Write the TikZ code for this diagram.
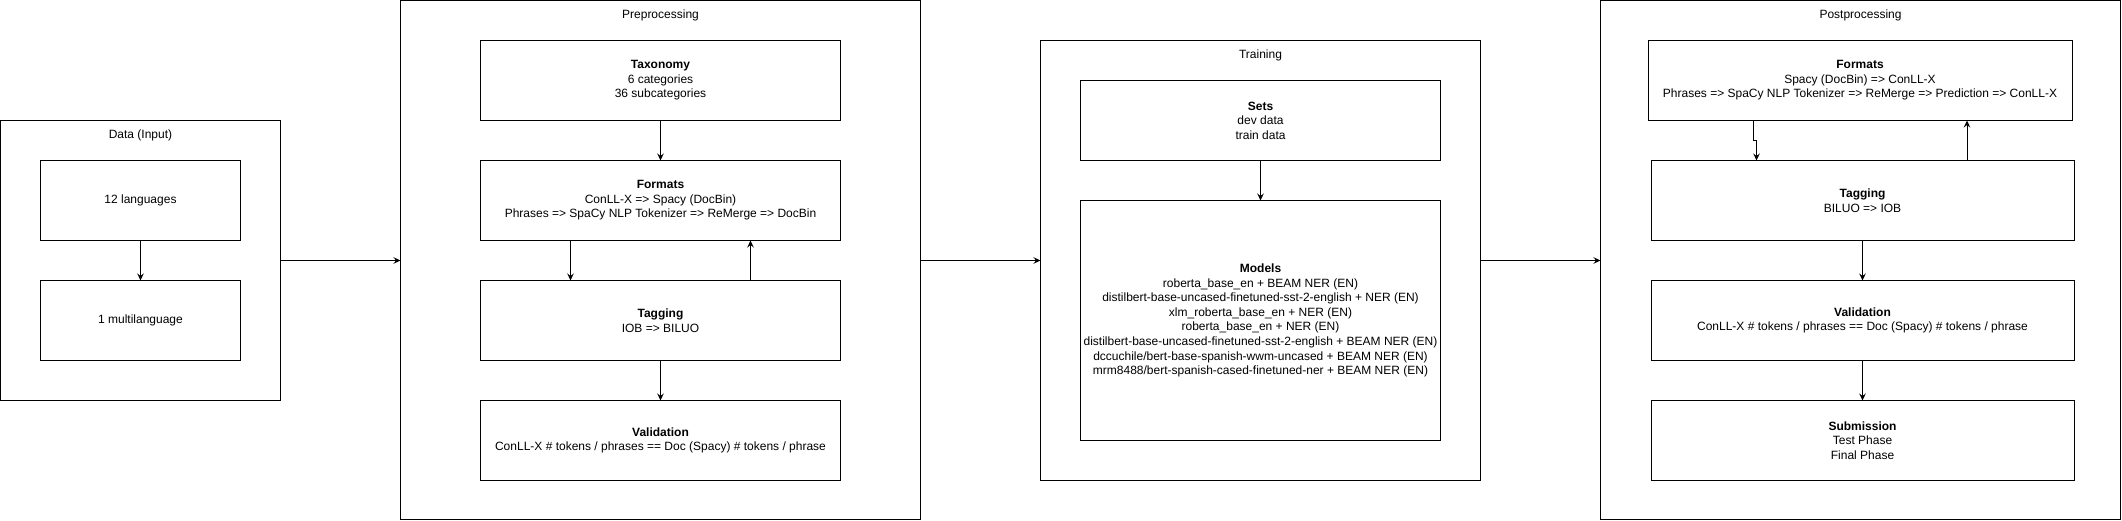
\documentclass[tikz,border=0pt]{standalone}
\usepackage{fontspec}
\setmainfont{Liberation Sans}
\usetikzlibrary{arrows.meta}
\begin{document}
\begin{tikzpicture}[x=1pt,y=-1pt,
  box/.style={draw, line width=1pt, inner sep=0pt, outer sep=0pt, align=center,
    font=\fontsize{12}{14.6}\selectfont, text=black},
  ttl/.style={inner sep=0pt, font=\fontsize{12}{14.6}\selectfont, text=black},
  arr/.style={-{Stealth[length=7pt,width=6.5pt,inset=2.5pt]}, line width=1pt}]
\useasboundingbox (0,0) rectangle (2122,521);
% Data
\node[box, minimum width=280pt, minimum height=280pt] (data) at (140.5,260.5) {};
\node[ttl] (datat) at (140.5,135) {Data (Input)};
\node[box, minimum width=200pt, minimum height=80pt] (d1) at (140.5,200.5) {12 languages};
\node[box, minimum width=200pt, minimum height=80pt] (d2) at (140.5,320.5) {1 multilanguage};
% Preprocessing
\node[box, minimum width=520pt, minimum height=519pt] (pre) at (660.5,260) {};
\node[ttl] (pret) at (660.5,15) {Preprocessing};
\node[box, minimum width=360pt, minimum height=80pt] (ptax) at (660.5,80.5) {\textbf{Taxonomy}\\6 categories\\36 subcategories};
\node[box, minimum width=360pt, minimum height=80pt] (pfmt) at (660.5,200.5) {\textbf{Formats}\\ConLL-X => Spacy (DocBin)\\Phrases => SpaCy NLP Tokenizer => ReMerge => DocBin};
\node[box, minimum width=360pt, minimum height=80pt] (ptag) at (660.5,320.5) {\textbf{Tagging}\\IOB => BILUO};
\node[box, minimum width=360pt, minimum height=80pt] (pval) at (660.5,440.5) {\textbf{Validation}\\ConLL-X \# tokens / phrases == Doc (Spacy) \# tokens / phrase};
% Training
\node[box, minimum width=440pt, minimum height=440pt] (train) at (1260.5,260.5) {};
\node[ttl] (traint) at (1260.5,55) {Training};
\node[box, minimum width=360pt, minimum height=80pt] (sets) at (1260.5,120.5) {\textbf{Sets}\\dev data\\train data};
\node[box, minimum width=360pt, minimum height=240pt] (models) at (1260.5,320.5) {\textbf{Models}\\roberta\_base\_en + BEAM NER (EN)\\distilbert-base-uncased-finetuned-sst-2-english + NER (EN)\\xlm\_roberta\_base\_en + NER (EN)\\roberta\_base\_en + NER (EN)\\distilbert-base-uncased-finetuned-sst-2-english + BEAM NER (EN)\\dccuchile/bert-base-spanish-wwm-uncased + BEAM NER (EN)\\mrm8488/bert-spanish-cased-finetuned-ner + BEAM NER (EN)};
% Postprocessing
\node[box, minimum width=520pt, minimum height=519pt] (post) at (1860.5,260) {};
\node[ttl] (postt) at (1860.5,15) {Postprocessing};
\node[box, minimum width=424pt, minimum height=80pt] (qfmt) at (1860,80.5) {\textbf{Formats}\\Spacy (DocBin) => ConLL-X\\Phrases => SpaCy NLP Tokenizer => ReMerge => Prediction => ConLL-X};
\node[box, minimum width=423pt, minimum height=80pt] (qtag) at (1862.5,200.5) {\textbf{Tagging}\\BILUO => IOB};
\node[box, minimum width=423pt, minimum height=80pt] (qval) at (1862.5,320.5) {\textbf{Validation}\\ConLL-X \# tokens / phrases == Doc (Spacy) \# tokens / phrase};
\node[box, minimum width=423pt, minimum height=80pt] (qsub) at (1862.5,440.5) {\textbf{Submission}\\Test Phase\\Final Phase};
% connectors
\draw[arr] (data.east) -- (pre.west |- data.east);
\draw[arr] (pre.east |- data.east) -- (train.west |- data.east);
\draw[arr] (train.east |- data.east) -- (post.west |- data.east);
\draw[arr] (d1) -- (d2);
\draw[arr] (ptax) -- (pfmt);
\draw[arr] ([xshift=-90pt]pfmt.south) -- ([xshift=-90pt]ptag.north);
\draw[arr] ([xshift=90pt]ptag.north) -- ([xshift=90pt]pfmt.south);
\draw[arr] (ptag) -- (pval);
\draw[arr] (sets) -- (models);
\draw[arr] ([xshift=-106.5pt]qfmt.south) -- ++(0,20) -| ([xshift=-106pt]qtag.north);
\draw[arr] ([xshift=104.5pt]qtag.north) -- ([xshift=107pt]qfmt.south);
\draw[arr] (qtag) -- (qval);
\draw[arr] (qval) -- (qsub);
\end{tikzpicture}
\end{document}
